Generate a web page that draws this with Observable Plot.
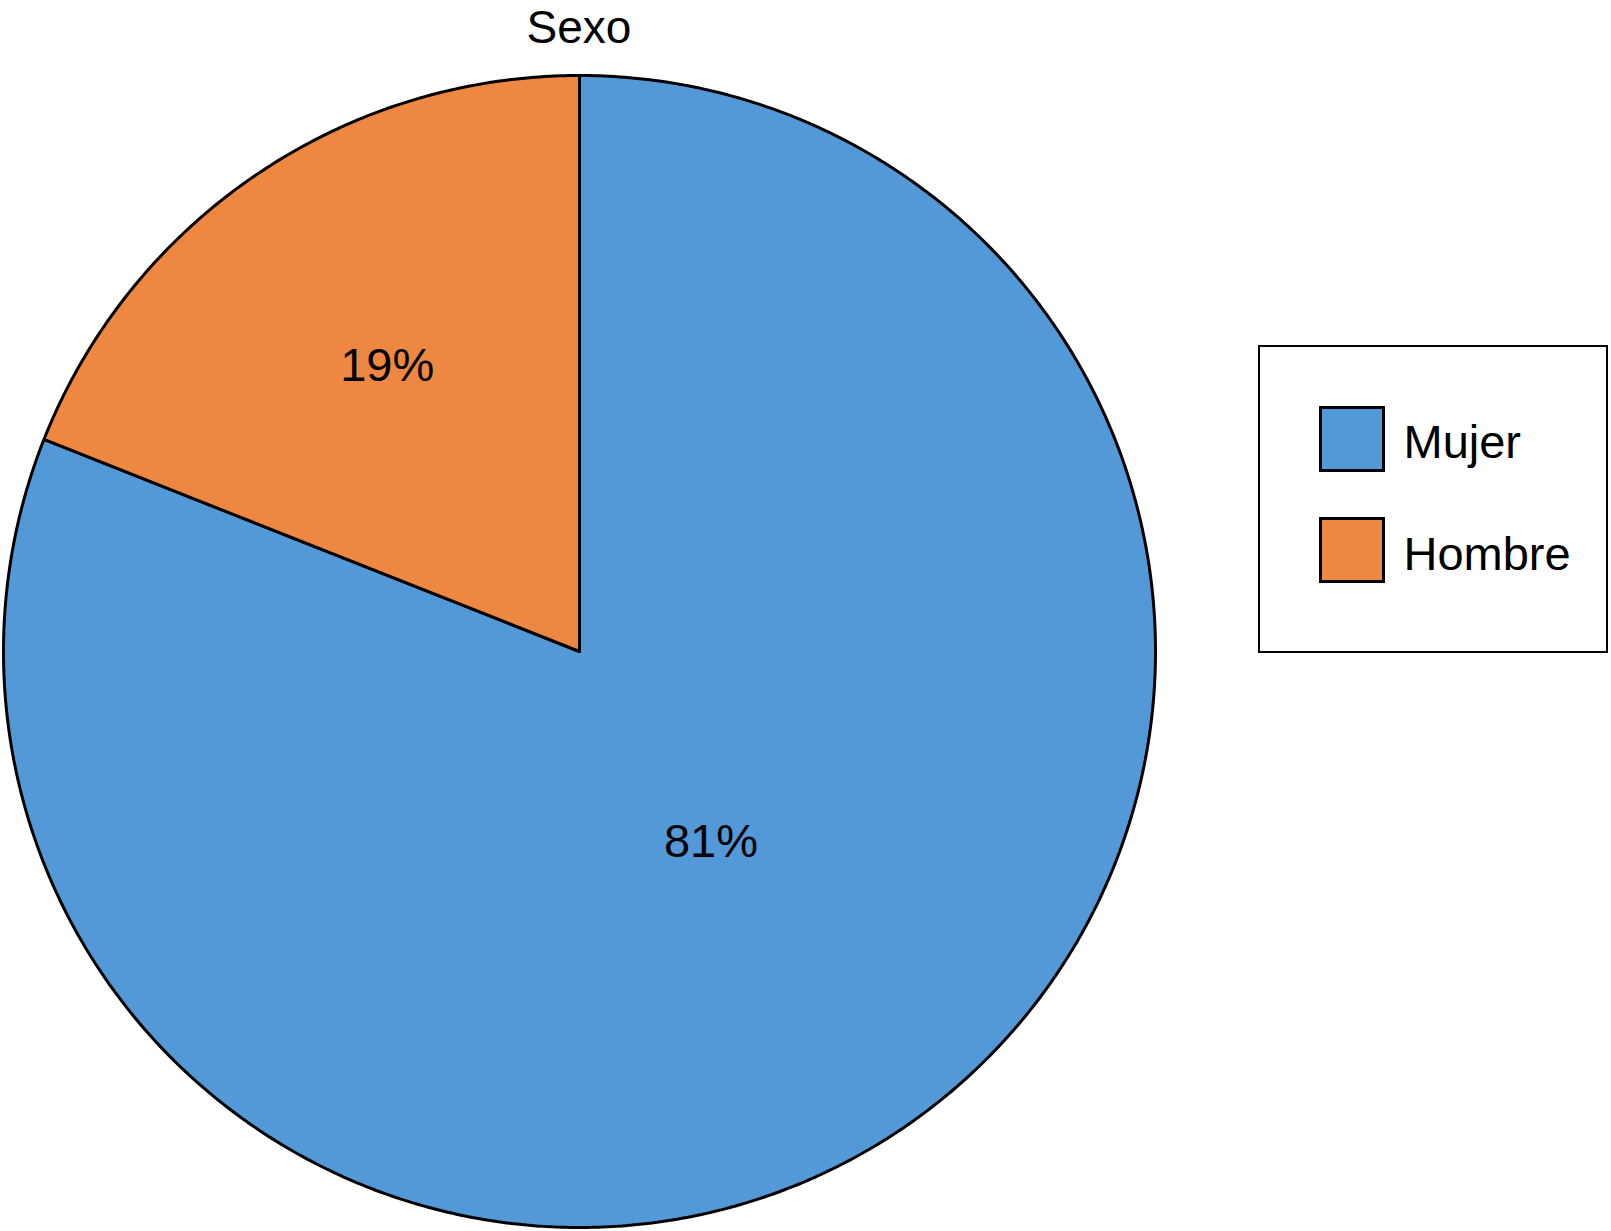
<!DOCTYPE html>
<html><head><meta charset="utf-8">
<script src="https://cdn.jsdelivr.net/npm/d3@7"></script>
<script src="https://cdn.jsdelivr.net/npm/@observablehq/plot@0.6"></script>
<style>
body{margin:0;background:#fff;font-family:"Liberation Sans",Arial,Helvetica,sans-serif;color:#000;}
#wrap{position:relative;width:1611px;height:1231px;overflow:hidden;background:#fff;}
#title{position:absolute;left:0;top:0;width:1158px;height:55px;text-align:center;font-size:46px;line-height:normal;white-space:nowrap;}
#chart{position:absolute;left:0;top:55px;}
#legend{position:absolute;left:1258px;top:345px;width:350px;height:308px;box-sizing:border-box;border:2.5px solid #000;background:#fff;}
.sw{position:absolute;width:66px;height:66px;box-sizing:border-box;border:3px solid #000;}
.lt{position:absolute;font-size:47px;line-height:normal;white-space:nowrap;}
</style></head><body>
<div id="wrap">
<div id="title"></div>
<div id="chart"></div>
<div id="legend"></div>
</div>
<script>
// ---- data ----
const title = "Sexo";
const categories = ["Mujer", "Hombre"];
const values = [81, 19];
const colors = ["#5499D7", "#EE8742"];
const labelRadius = {Mujer: 0.40, Hombre: 0.60};

// ---- build slices ----
const arcs = d3.pie().sort(null).startAngle(0).endAngle(2 * Math.PI)(values);
const pts = [];
const labels = [];
arcs.forEach((a, i) => {
  const cat = categories[i];
  pts.push({slice: cat, x: 0, y: 0});
  const n = Math.max(2, Math.ceil((a.endAngle - a.startAngle) / (Math.PI / 360)));
  for (let k = 0; k <= n; k++) {
    const t = a.startAngle + (a.endAngle - a.startAngle) * k / n;
    pts.push({slice: cat, x: Math.sin(t), y: Math.cos(t)});
  }
  pts.push({slice: cat, x: 0, y: 0});
  const mid = (a.startAngle + a.endAngle) / 2;
  const r = labelRadius[cat];
  labels.push({slice: cat, x: r * Math.sin(mid), y: r * Math.cos(mid), text: values[i] + "%"});
});

document.getElementById("title").textContent = title;

const chart = Plot.plot({
  width: 1611,
  height: 1176,
  margin: 0,
  x: {domain: [-1, 1], range: [3, 1155], axis: null},
  y: {domain: [-1, 1], range: [1172, 20], axis: null},
  color: {domain: categories, range: colors},
  style: {fontFamily: '"Liberation Sans", Arial, Helvetica, sans-serif', background: "transparent", color: "#000"},
  marks: [
    Plot.line(pts, {x: "x", y: "y", z: "slice", fill: "slice", stroke: "#000", strokeWidth: 3, strokeLinejoin: "miter", strokeOpacity: 1}),
    Plot.text(labels, {x: "x", y: "y", text: "text", fontSize: 47, fill: "#000", textAnchor: "middle", lineAnchor: "middle", dx: 2})
  ]
});
document.getElementById("chart").appendChild(chart);

// ---- legend ----
const legend = document.getElementById("legend");
categories.forEach((c, i) => {
  const sw = document.createElement("div");
  sw.className = "sw";
  sw.style.left = (1319 - 1258 - 2.5) + "px";
  sw.style.top = (406 - 345 - 2.5 + i * 111) + "px";
  sw.style.background = colors[i];
  legend.appendChild(sw);
  const t = document.createElement("div");
  t.className = "lt";
  t.style.left = (1404 - 1258 - 2.5) + "px";
  t.style.top = (414 - 345 - 2.5 + i * 112) + "px";
  t.textContent = c;
  legend.appendChild(t);
});
</script>
</body></html>
